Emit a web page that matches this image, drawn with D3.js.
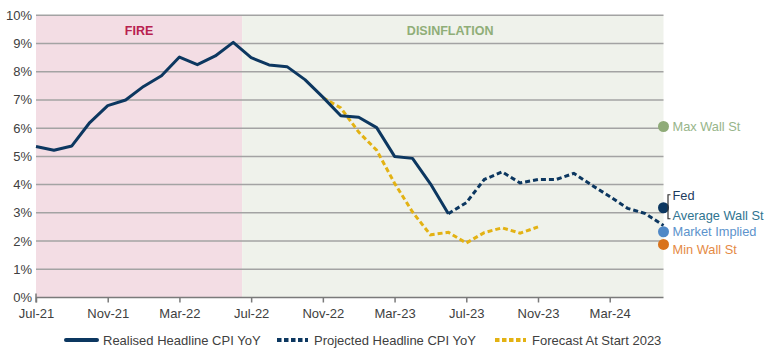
<!DOCTYPE html>
<html><head><meta charset="utf-8">
<script src="https://cdn.jsdelivr.net/npm/d3@7"></script>
<style>body{margin:0;background:#fff}svg{display:block;font-family:"Liberation Sans",Arial,sans-serif}</style>
</head><body><svg id="c" width="770" height="355"></svg>
<script>
const months = ["Jul-21","Aug-21","Sep-21","Oct-21","Nov-21","Dec-21","Jan-22","Feb-22","Mar-22","Apr-22","May-22","Jun-22",
"Jul-22","Aug-22","Sep-22","Oct-22","Nov-22","Dec-22","Jan-23","Feb-23","Mar-23","Apr-23","May-23","Jun-23",
"Jul-23","Aug-23","Sep-23","Oct-23","Nov-23","Dec-23","Jan-24","Feb-24","Mar-24","Apr-24","May-24","Jun-24"];
const tickLabels = ["Jul-21","Nov-21","Mar-22","Jul-22","Nov-22","Mar-23","Jul-23","Nov-23","Mar-24"];
const yTicks = [0,1,2,3,4,5,6,7,8,9,10];
// Realised Jul-21 .. Jun-23
const realised = [5.35,5.22,5.37,6.2,6.8,7.0,7.48,7.86,8.52,8.25,8.56,9.04,
8.5,8.24,8.18,7.72,7.1,6.44,6.39,6.02,5.0,4.93,4.03,2.97];
// Projected Jun-23 .. Jun-24
const projected = [2.97,3.36,4.18,4.45,4.06,4.18,4.18,4.4,3.98,3.58,3.16,2.97,2.55];
// Forecast at start 2023: Nov-22 .. Nov-23
const forecast = [7.08,6.72,5.86,5.22,4.05,3.03,2.22,2.31,1.93,2.3,2.47,2.28,2.5];
const regimes = [{name:"FIRE",from:0,to:11.5,fill:"#f3dde4",color:"#b8214f"},
                 {name:"DISINFLATION",from:11.5,to:35,fill:"#eff2eb",color:"#8fae78"}];
const endpoints = [
 {name:"Max Wall St", value:6.06, dot:"#8fab78", text:"#97b58a", dy:0},
 {name:"Fed", value:3.18, dot:"#0c3760", text:"#1d3c5e", dy:0},
 {name:"Market Implied", value:2.33, dot:"#4f88c6", text:"#5c93cc", dy:-0.5},
 {name:"Min Wall St", value:1.88, dot:"#d9731c", text:"#e58a45", dy:5}];
const avgWallStLabel = "Average Wall St";

const svg = d3.select("#c");
const x = d3.scaleLinear().domain([0, months.length-1]).range([36, 663.5]);
const y = d3.scaleLinear().domain([0, 10]).range([297.5, 15.3]);
const navy = "#0c3760", gold = "#e3b213";

// bands
svg.selectAll("rect.band").data(regimes).join("rect")
  .attr("x", d=>x(d.from)).attr("width", d=>x(d.to)-x(d.from))
  .attr("y", y(10)).attr("height", y(0)-y(10)).attr("fill", d=>d.fill);
svg.selectAll("text.band").data(regimes).join("text")
  .attr("x", d=>d.name==="FIRE"? (x(d.from)+x(d.to))/2 : x(23.1))
  .attr("y", 34.5).attr("text-anchor","middle").attr("font-size",12.5).attr("font-weight","bold")
  .attr("fill", d=>d.color).text(d=>d.name);

// gridlines
svg.append("g").selectAll("line").data(yTicks.filter(v=>v>0)).join("line")
  .attr("x1", x(0)).attr("x2", x(35)).attr("y1", d=>y(d)).attr("y2", d=>y(d))
  .attr("stroke","#a3a3a3").attr("stroke-width",1.5);

// y axis labels
svg.append("g").selectAll("text").data(yTicks).join("text")
  .attr("x", 32).attr("y", d=>y(d)+4.5).attr("text-anchor","end")
  .attr("font-size",13).attr("fill","#404040").text(d=>d+"%");

// x axis
const tickIdx = tickLabels.map(t=>months.indexOf(t));
const xAxis = d3.axisBottom(x).tickValues(tickIdx).tickFormat(i=>months[i]).tickSize(5).tickSizeOuter(0);
const gx = svg.append("g").attr("transform",`translate(0,${y(0)})`).call(xAxis);
gx.select(".domain").attr("stroke","#7a7a7a").attr("stroke-width",1.5).attr("d",`M${x(0)},0H${x(35)}`);
gx.selectAll(".tick line").attr("stroke","#7a7a7a").attr("stroke-width",1.5);
gx.selectAll(".tick text").attr("font-size",13).attr("fill","#404040").attr("dy","0.95em")
  .attr("font-family","Liberation Sans, Arial, sans-serif");
gx.append("line").attr("x1",x(0)).attr("x2",x(0)).attr("y1",-4).attr("y2",5).attr("stroke","#7a7a7a").attr("stroke-width",1.5);

// lines
const line = d3.line().x(d=>x(d[0])).y(d=>y(d[1]));
svg.append("path").datum(forecast.map((v,i)=>[16+i,v])).attr("d",line)
  .attr("fill","none").attr("stroke",gold).attr("stroke-width",3).attr("stroke-dasharray","5,3");
svg.append("path").datum(realised.map((v,i)=>[i,v])).attr("d",line)
  .attr("fill","none").attr("stroke",navy).attr("stroke-width",3).attr("stroke-linejoin","round");
svg.append("path").datum(projected.map((v,i)=>[23+i,v])).attr("d",line)
  .attr("fill","none").attr("stroke",navy).attr("stroke-width",3).attr("stroke-dasharray","5,3");

// endpoints
const ex = x(35);
svg.selectAll("circle.ep").data(endpoints).join("circle")
  .attr("cx", ex).attr("cy", d=>y(d.value)).attr("r", 5.5).attr("fill", d=>d.dot);
endpoints.filter(d=>d.name!=="Fed").forEach(d=>{
  svg.append("text").attr("x", ex+9).attr("y", y(d.value)+4.5+d.dy).attr("font-size",12.8)
    .attr("fill", d.text).text(d.name);
});
const fed = endpoints.find(d=>d.name==="Fed");
const fy = y(fed.value);
svg.append("path").attr("d",`M${ex+7},${fy-13}h-2.5v24h2.5`).attr("fill","none").attr("stroke","#333").attr("stroke-width",1.2);
svg.append("text").attr("x", ex+9).attr("y", fy-8).attr("font-size",12.8).attr("fill",fed.text).text("Fed");
svg.append("text").attr("x", ex+9).attr("y", fy+12.5).attr("font-size",12.8).attr("fill","#2f7490").text(avgWallStLabel);

// legend
const legend = [
 {name:"Realised Headline CPI YoY", color:navy, dash:null, x0:66},
 {name:"Projected Headline CPI YoY", color:navy, dash:"4.5,2.5", x0:277},
 {name:"Forecast At Start 2023", color:gold, dash:"4.5,2.5", x0:495}];
const lg = svg.append("g");
legend.forEach(d=>{
  lg.append("line").attr("x1",d.x0).attr("x2",d.x0+31).attr("y1",340).attr("y2",340)
    .attr("stroke",d.color).attr("stroke-width",4).attr("stroke-dasharray",d.dash)
    .attr("stroke-linecap", d.dash? null : "round");
  lg.append("text").attr("x",d.x0+37).attr("y",344.5).attr("font-size",13).attr("fill","#404040").text(d.name);
});
</script></body></html>
